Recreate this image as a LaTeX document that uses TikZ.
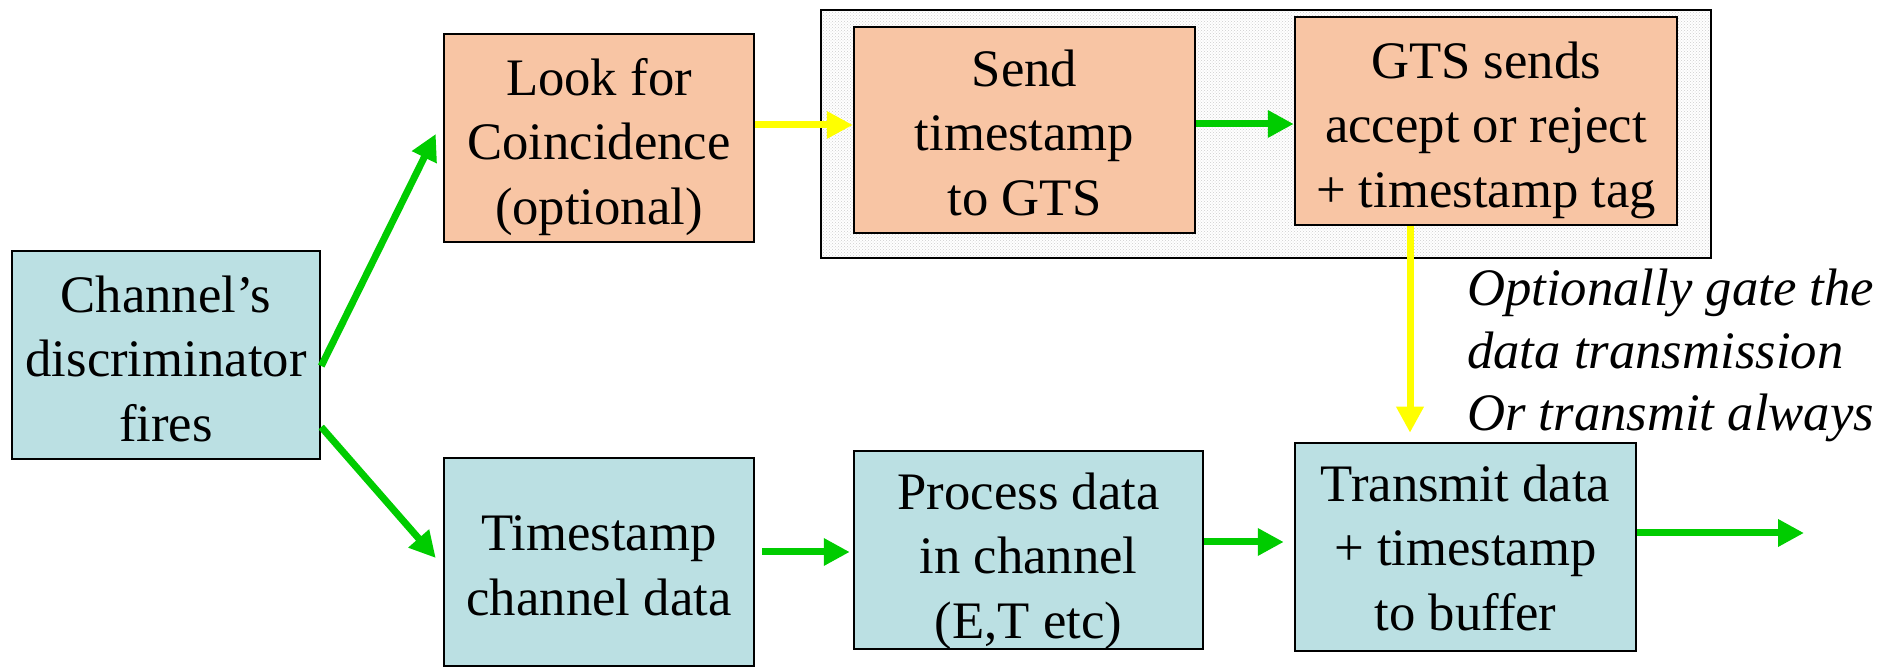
\documentclass[tikz,border=0pt]{standalone}
\usepackage{fontspec}
\setmainfont{Liberation Serif}
\usetikzlibrary{arrows.meta,patterns}
\definecolor{boxblue}{RGB}{187,224,227}
\definecolor{boxpeach}{RGB}{248,197,164}
\definecolor{arrgreen}{RGB}{0,204,0}
\definecolor{arryellow}{RGB}{255,255,0}
\definecolor{panelgray}{RGB}{205,205,205}
\newcommand{\mylines}[2]{\raisebox{#1}[\height][\depth]{\begin{tabular}{@{}c@{}}#2\end{tabular}}}
\newcommand{\mylinesleft}[2]{\raisebox{#1}[\height][\depth]{\begin{tabular}{@{}l@{}}#2\end{tabular}}}
\tikzset{
  procbox/.style={draw=black, line width=2.5pt, inner sep=0pt,
    font=\fontsize{52.7}{64.5}\selectfont},
  bluebox/.style={procbox, fill=boxblue},
  peachbox/.style={procbox, fill=boxpeach},
  flow/.style={line width=7pt, -{Triangle[length=26pt,width=26pt]}},
  greenflow/.style={flow, draw=arrgreen},
  yellowflow/.style={flow, draw=arryellow},
  note/.style={font=\fontsize{52.7}{62.5}\selectfont\itshape, inner sep=0pt}
}
\begin{document}
\begin{tikzpicture}[x=1pt,y=1pt]
\useasboundingbox (0,0) rectangle (1901,668);
% gray panel
\node[draw=black, line width=2pt, preaction={fill=white},
  pattern=crosshatch dots, pattern color=panelgray, inner sep=0pt,
  minimum width=890pt, minimum height=248pt] (panel) at (1266,534) {};
% nodes
\node[bluebox, minimum width=308pt, minimum height=208pt] (chan) at (166,313)
  {\mylines{-9pt}{Channel’s\\discriminator\\fires}};
\node[peachbox, minimum width=310pt, minimum height=208pt] (look) at (599,530)
  {\mylines{-9pt}{Look for\\Coincidence\\(optional)}};
\node[peachbox, minimum width=341pt, minimum height=206pt] (send) at (1024.5,538)
  {\mylines{-8pt}{Send\\timestamp\\to GTS}};
\node[peachbox, minimum width=382pt, minimum height=208pt] (gts) at (1486,547)
  {\mylines{-9pt}{GTS sends\\accept or reject\\+ timestamp tag}};
\node[bluebox, minimum width=310pt, minimum height=208pt] (ts) at (599,106)
  {\mylines{-8pt}{Timestamp\\channel data}};
\node[bluebox, minimum width=349pt, minimum height=198pt] (proc) at (1028.5,118)
  {\mylines{-11pt}{Process data\\in channel\\(E,T etc)}};
\node[bluebox, minimum width=341pt, minimum height=208pt] (trans) at (1465.5,121)
  {\mylines{-6pt}{Transmit data\\+ timestamp\\to buffer}};
\node[note, anchor=west] (gate) at (1467,317)
  {\mylinesleft{-5pt}{Optionally gate the\\data transmission\\Or transmit always}};
\coordinate (out) at (1804,135);
% connectors
\draw[greenflow] ([yshift=-11pt]chan.east) -- ([xshift=-7pt,yshift=4pt]look.west);
\draw[greenflow] ([yshift=-72pt]chan.east) -- ([xshift=-7pt,yshift=4pt]ts.west);
\draw[yellowflow] ([yshift=13pt]look.east) -- ([yshift=5pt]send.west);
\draw[greenflow] ([yshift=6pt]send.east) -- ([yshift=-3pt]gts.west);
\draw[yellowflow] ([xshift=-76pt]gts.south) -- ([xshift=-55.5pt,yshift=9pt]trans.north);
\draw[greenflow] ([xshift=7pt,yshift=10pt]ts.east) -- ([xshift=-3pt,yshift=-2pt]proc.west);
\draw[greenflow] ([yshift=8pt]proc.east) -- ([xshift=-10pt,yshift=5pt]trans.west);
\draw[greenflow] ([yshift=14pt]trans.east) -- (out);
\end{tikzpicture}
\end{document}
